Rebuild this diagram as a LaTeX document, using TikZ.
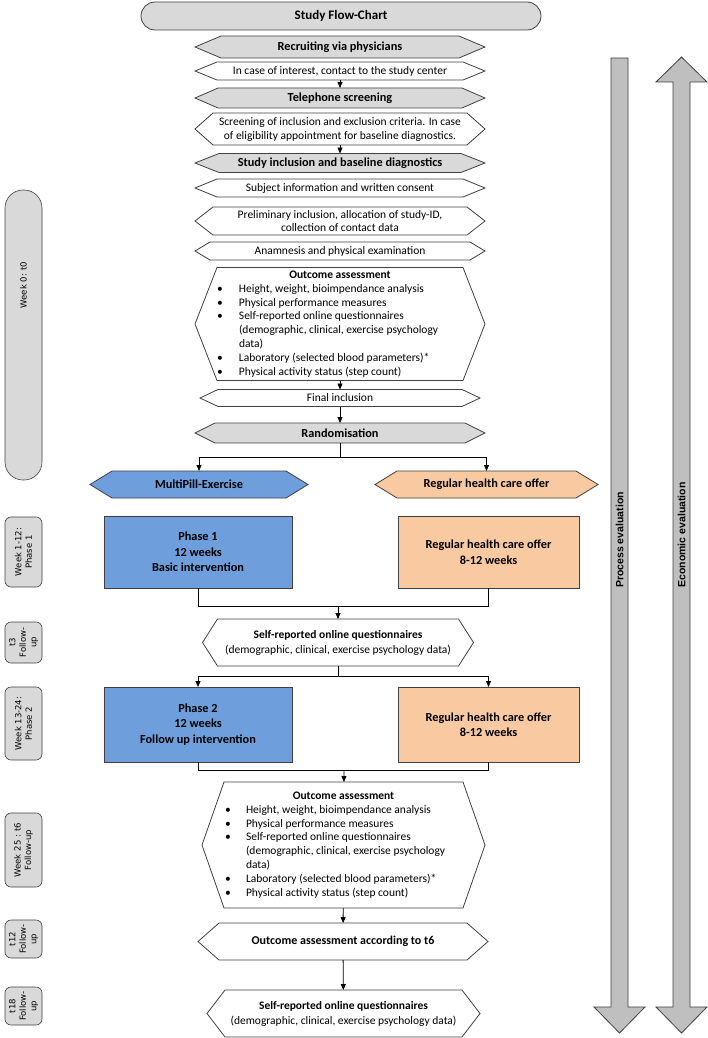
\documentclass[tikz,border=0pt]{standalone}
\usepackage{fontspec}
\setmainfont{Carlito}
\newfontfamily\sidefont{DejaVu Sans}
\newfontfamily\evalfont{Liberation Sans}
\usetikzlibrary{arrows.meta,backgrounds}

\definecolor{boxgray}{RGB}{217,217,217}
\definecolor{evalgray}{RGB}{191,191,191}
\definecolor{pillblue}{RGB}{110,159,220}
\definecolor{careorange}{RGB}{249,202,162}
\definecolor{edgegray}{RGB}{64,64,64}

\begin{document}
\begin{tikzpicture}[
  x=1pt, y=-1pt,
  >={Triangle[length=6pt,width=5pt]},
  font=\fontsize{11.5}{13.8}\selectfont,
  hexa/.style n args={2}{shape=rectangle, inner sep=0pt, outer sep=0pt, align=center,
    append after command={\pgfextra{\begin{pgfonlayer}{background}
      \draw[line width=0.8pt, draw=edgegray, fill=#1]
        (\tikzlastnode.west) -- ([xshift=#2]\tikzlastnode.north west)
        -- ([xshift=-#2]\tikzlastnode.north east) -- (\tikzlastnode.east)
        -- ([xshift=-#2]\tikzlastnode.south east)
        -- ([xshift=#2]\tikzlastnode.south west) -- cycle;
      \end{pgfonlayer}}}},
  whitehex/.style={hexa={white}{#1}}, whitehex/.default=22pt,
  greyhex/.style={hexa={boxgray}{#1}, font=\fontsize{12.3}{13.8}\selectfont\bfseries},
  greyhex/.default=24pt,
  bluehex/.style={hexa={pillblue}{22pt}, font=\fontsize{12.3}{13.8}\selectfont\bfseries},
  orangehex/.style={hexa={careorange}{22pt}, font=\fontsize{12.3}{13.8}\selectfont\bfseries},
  phasebox/.style={draw=edgegray, line width=0.8pt, inner sep=0pt, outer sep=0pt,
    align=center, font=\fontsize{12.3}{15.5}\selectfont\bfseries},
  timebox/.style={draw=edgegray, line width=0.6pt, fill=boxgray, rounded corners=6pt,
    rotate=90, align=center, inner sep=1pt, outer sep=0pt, minimum height=37pt,
    font=\sidefont\fontsize{8.5}{10.5}\selectfont},
  evalarrow/.style={draw=edgegray, line width=0.8pt, fill=evalgray},
  evallabel/.style={rotate=90, font=\evalfont\fontsize{10.5}{12}\selectfont\bfseries},
  arr/.style={->, line width=0.8pt},
  joinline/.style={line width=0.8pt},
]
\useasboundingbox (0,0) rectangle (708,1038);

% title
\node[draw=edgegray, line width=0.8pt, fill=boxgray, rounded corners=14pt,
  minimum width=400pt, minimum height=28pt, font=\fontsize{13}{15}\selectfont\bfseries]
  (title) at (341,16) {Study Flow-Chart};

% recruiting and screening
\node[greyhex=26pt, minimum width=290pt, minimum height=22pt] (recruit) at (340,47) {Recruiting via physicians};
\node[whitehex, minimum width=290pt, minimum height=18pt] (interest) at (340,71) {In case of interest, contact to the study center};
\node[greyhex=23pt, minimum width=290pt, minimum height=20pt] (phone) at (340,98) {Telephone screening};
\node[whitehex=18pt, minimum width=290pt, minimum height=32pt, font=\fontsize{11.5}{14}\selectfont] (screen) at (340,129)
  {Screening of inclusion and exclusion criteria. In case\\of eligibility appointment for baseline diagnostics.};

% baseline
\node[greyhex, minimum width=290pt, minimum height=19pt] (incl) at (340,163) {Study inclusion and baseline diagnostics};
\node[whitehex, minimum width=290pt, minimum height=18pt] (consent) at (340,188) {Subject information and written consent};
\node[whitehex=18pt, minimum width=290pt, minimum height=28pt] (prelim) at (340,221)
  {Preliminary inclusion, allocation of study-ID,\\collection of contact data};
\node[whitehex=15pt, minimum width=290pt, minimum height=18pt] (anam) at (340,251) {Anamnesis and physical examination};
\node[whitehex, minimum width=290pt, minimum height=113pt] (outc1) at (340,324) {%
  \begin{tabular}{@{}p{22pt}@{}p{224pt}@{}}
  \multicolumn{2}{c}{\textbf{Outcome assessment}}\\
  \textbullet & Height, weight, bioimpendance analysis\\
  \textbullet & Physical performance measures\\
  \textbullet & Self-reported online questionnaires\\
   & (demographic, clinical, exercise psychology\\
   & data)\\
  \textbullet & Laboratory (selected blood parameters)*\\
  \textbullet & Physical activity status (step count)\\
  \end{tabular}};
\node[whitehex=18pt, minimum width=280pt, minimum height=17pt] (final) at (340,398) {Final inclusion};
\node[greyhex=20pt, minimum width=290pt, minimum height=20pt] (rand) at (340,433) {Randomisation};

% groups
\node[bluehex, minimum width=218pt, minimum height=27pt] (multi) at (199,484.5) {MultiPill-Exercise};
\node[orangehex, minimum width=223pt, minimum height=27pt] (regular) at (486.5,484.5) {Regular health care offer};

\node[phasebox, fill=pillblue, minimum width=188pt, minimum height=72pt] (phase1) at (198,552)
  {Phase 1\\12 weeks\\Basic intervention};
\node[phasebox, fill=careorange, minimum width=181pt, minimum height=72pt] (reg1) at (488.5,552)
  {Regular health care offer\\8-12 weeks};

\node[whitehex=15pt, minimum width=271pt, minimum height=47pt, font=\fontsize{11.5}{15}\selectfont] (self1) at (338,642.5)
  {\textbf{Self-reported online questionnaires}\\(demographic, clinical, exercise psychology data)};

\node[phasebox, fill=pillblue, minimum width=188pt, minimum height=75pt] (phase2) at (198,724.5)
  {Phase 2\\12 weeks\\Follow up intervention};
\node[phasebox, fill=careorange, minimum width=181pt, minimum height=75pt] (reg2) at (488.5,724.5)
  {Regular health care offer\\8-12 weeks};

% follow-up
\node[whitehex, minimum width=283pt, minimum height=126pt] (outc2) at (343.5,845) {%
  \begin{tabular}{@{}p{21pt}@{}p{216pt}@{}}
  \multicolumn{2}{c}{\textbf{Outcome assessment}}\\
  \textbullet & Height, weight, bioimpendance analysis\\
  \textbullet & Physical performance measures\\
  \textbullet & Self-reported online questionnaires\\
   & (demographic, clinical, exercise psychology\\
   & data)\\
  \textbullet & Laboratory (selected blood parameters)*\\
  \textbullet & Physical activity status (step count)\\
  \end{tabular}};
\node[whitehex=21pt, minimum width=290pt, minimum height=37pt, font=\fontsize{12}{13.8}\selectfont\bfseries] (t6) at (343,941.5)
  {Outcome assessment according to t6};
\node[whitehex=18pt, minimum width=273pt, minimum height=47pt, font=\fontsize{11.5}{15}\selectfont] (self2) at (343.5,1013.5)
  {\textbf{Self-reported online questionnaires}\\(demographic, clinical, exercise psychology data)};

% time line on the left
\node[timebox, rounded corners=18pt, minimum width=290pt] (wk0) at (23.5,335) {};
\node[rotate=90, font=\sidefont\fontsize{8.5}{10.5}\selectfont] (wk0text) at (23.5,285) {Week 0: t0};
\node[timebox, minimum width=70pt] (wk1) at (23.5,552) {Week 1-12:\\Phase 1};
\node[timebox, minimum width=41pt] (fu3) at (23.5,642.5) {t3\\Follow-\\up};
\node[timebox, minimum width=73pt] (wk13) at (23.5,723.5) {Week 13-24:\\Phase 2};
\node[timebox, minimum width=74pt] (wk25) at (23.5,850) {Week 25 : t6\\Follow-up};
\node[timebox, minimum width=38pt] (fu12) at (23.5,939) {t12\\Follow-\\up};
\node[timebox, minimum width=38pt] (fu18) at (23.5,1006) {t18\\Follow-\\up};

% evaluation arrows on the right
\draw[evalarrow] (611,58) -- (628,58) -- (628,1007) -- (645,1007) -- (619.5,1033)
  -- (594,1007) -- (611,1007) -- cycle;
\draw[evalarrow] (681.5,57) -- (707,82) -- (690,82) -- (690,1007) -- (707,1007)
  -- (681.5,1033) -- (656,1007) -- (673,1007) -- (673,82) -- (656,82) -- cycle;
\node[evallabel] (proc) at (619.5,540) {Process evaluation};
\node[evallabel] (econ) at (681.5,535) {Economic evaluation};

% connectors
\coordinate (split1) at (340,457);
\coordinate (merge1) at (338,606);
\coordinate (split2) at (338,676);
\coordinate (merge2) at (344,770);

\draw[arr] (interest) -- (phone);
\draw[arr] (screen) -- (incl);
\draw[arr] (outc1) -- (final);
\draw[arr] (final) -- (rand);
\draw[joinline] (rand) -- (split1);
\draw[arr] (split1) -| (multi);
\draw[arr] (split1) -| (regular);
\draw[joinline] (phase1) |- (merge1);
\draw[joinline] (reg1) |- (merge1);
\draw[arr] (merge1) -- (self1);
\draw[joinline] (self1) -- (split2);
\draw[arr] (split2) -| (phase2);
\draw[arr] (split2) -| (reg2);
\draw[joinline] (phase2) |- (merge2);
\draw[joinline] (reg2) |- (merge2);
\draw[arr] (merge2) -- (outc2);
\draw[arr] (outc2) -- (t6);
\draw[arr] (t6) -- (self2);

\end{tikzpicture}
\end{document}
